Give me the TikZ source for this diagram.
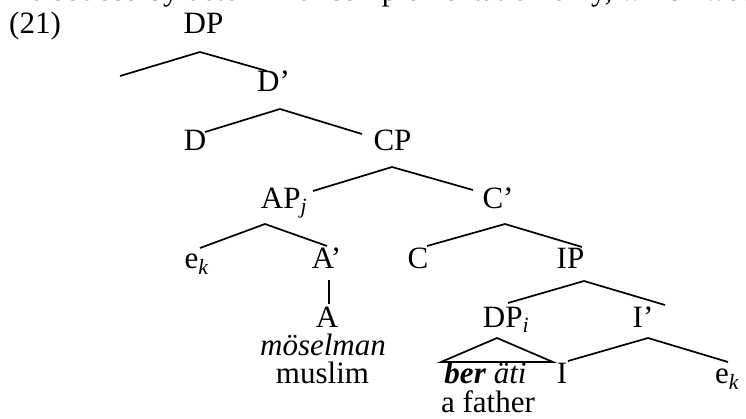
\documentclass[tikz,border=0pt]{standalone}
\usepackage{fontspec}
\setmainfont{Liberation Serif}
\usepackage{tikz}
\newcommand{\subidx}[1]{\textsubscript{\itshape #1}}
\tikzset{every node/.style={inner sep=0pt,outer sep=0pt,anchor=base,font=\fontsize{31}{31}\selectfont},
         branch/.style={draw,line width=1.7pt,line join=miter}
}

\begin{document}
\begin{tikzpicture}[x=1pt,y=-1pt]
\useasboundingbox (0,0) rectangle (746,418);

% line of running text, cut by the frame
\node[anchor=base east] (prose) at (781,0) {introduced by determiner complementation only, which would};

\node (ex) at (35,33) {(21)};
\node (dp) at (203.5,33) {DP};
\node (dbar) at (273.5,91) {D’};
\node (d) at (195,150) {D};
\node (cp) at (392.5,150) {CP};
\node (apj) at (284,208) {AP\subidx{j}};
\node (cbar) at (498,208) {C’};
\node (ekl) at (196.5,268) {e\subidx{k}};
\node (abar) at (326.5,268) {A’};
\node (c) at (418,268) {C};
\node (ip) at (570.5,268) {IP};
\node (a) at (327,327) {A};
\node (dpi) at (506,327) {DP\subidx{i}};
\node (ibar) at (643,327) {I’};
\node (mosel) at (323,355) {\textit{möselman}};
\node (muslim) at (322.5,383) {muslim};
\node (berati) at (485.5,383) {\textbf{\textit{ber}} \textit{äti}};
\node (i) at (562,383) {I};
\node (ekr) at (727,383) {e\subidx{k}};
\node (father) at (488,412) {a father};

% branch points
\coordinate (dpT) at (200,52);   \coordinate (dpL) at (120,76);   \coordinate (dpR) at (267,71);
\coordinate (dbarT) at (280,109);\coordinate (dbarL) at (205,132);\coordinate (dbarR) at (362,134);
\coordinate (cpT) at (392,167);  \coordinate (cpL) at (313,191);  \coordinate (cpR) at (473,190);
\coordinate (apT) at (265,224);  \coordinate (apL) at (200,248);  \coordinate (apR) at (327,246);
\coordinate (abarT) at (329,280);\coordinate (abarB) at (329,304);
\coordinate (cbarT) at (505,224);\coordinate (cbarL) at (427,246);\coordinate (cbarR) at (582,247);
\coordinate (ipT) at (584,281);  \coordinate (ipL) at (508,303);  \coordinate (ipR) at (665,305);
\coordinate (dpiT) at (497,338); \coordinate (dpiL) at (441,362); \coordinate (dpiR) at (553,362);
\coordinate (ibarT) at (648,338);\coordinate (ibarL) at (568,361);\coordinate (ibarR) at (728,362);

\draw[branch] (dpL) -- (dpT) -- (dpR);
\draw[branch] (dbarL) -- (dbarT) -- (dbarR);
\draw[branch] (cpL) -- (cpT) -- (cpR);
\draw[branch] (apL) -- (apT) -- (apR);
\draw[branch] (abarT) -- (abarB);
\draw[branch] (cbarL) -- (cbarT) -- (cbarR);
\draw[branch] (ipL) -- (ipT) -- (ipR);
\draw[branch] (dpiL) -- (dpiT) -- (dpiR) -- cycle;
\draw[branch] (ibarL) -- (ibarT) -- (ibarR);
\end{tikzpicture}
\end{document}
